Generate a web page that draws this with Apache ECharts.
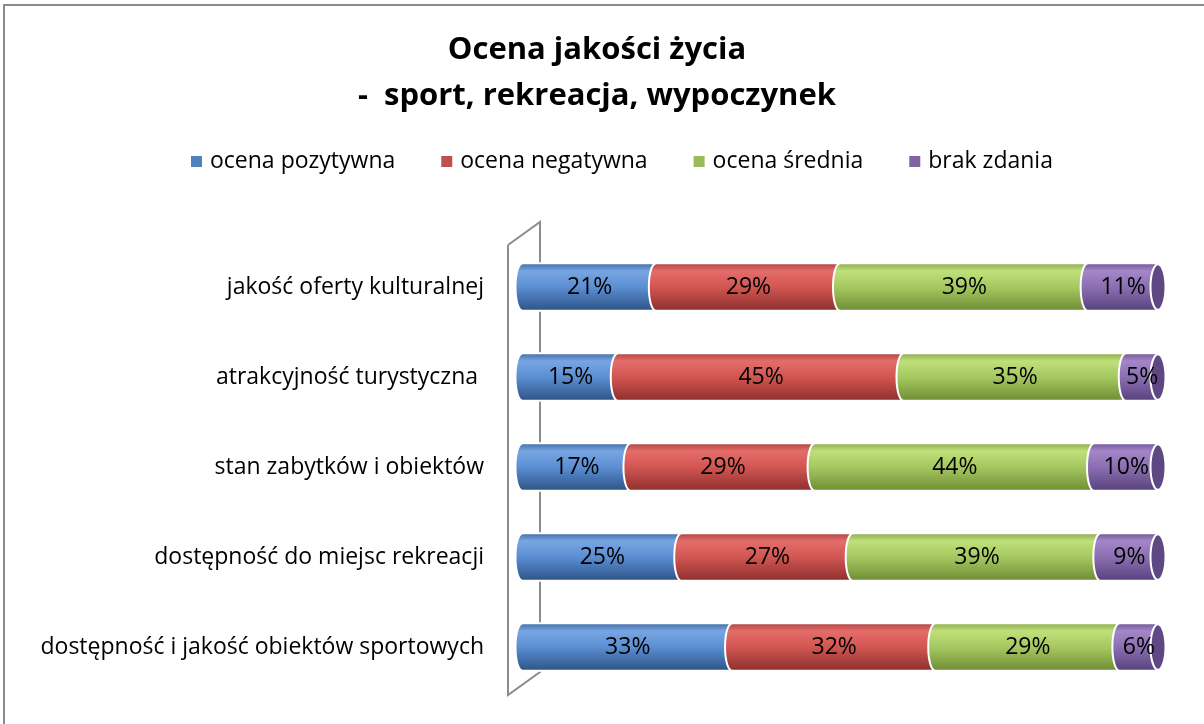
<!DOCTYPE html>
<html>
<head>
<meta charset="utf-8">
<script src="https://cdn.jsdelivr.net/npm/echarts@6/dist/echarts.min.js"></script>
<style>
html, body { margin: 0; padding: 0; background: #fff; }
#chart { width: 1204px; height: 724px; }
</style>
</head>
<body>
<div id="chart"></div>
<script>
// categories, top to bottom
var categories = [
    "jakość oferty kulturalnej",
    "atrakcyjność turystyczna ",
    "stan zabytków i obiektów",
    "dostępność do miejsc rekreacji",
    "dostępność i jakość obiektów sportowych"
];
var seriesNames = ["ocena pozytywna", "ocena negatywna", "ocena średnia", "brak zdania"];
var pozytywna = [21, 15, 17, 25, 33];
var negatywna = [29, 45, 29, 27, 32];
var srednia = [39, 35, 44, 39, 29];
var brak = [11, 5, 10, 9, 6];

var FONT = "'Open Sans', sans-serif";
var palette = [
    {base: "#4f81bd", stops: ["#3a659e", "#78a6e2", "#5b8ed3", "#2b5183"]},
    {base: "#c0504d", stops: ["#a63f3c", "#e46d6a", "#d25652", "#8a2e2c"]},
    {base: "#9bbb59", stops: ["#85a448", "#bfe07a", "#a6c860", "#6c8a33"]},
    {base: "#8064a2", stops: ["#6a5090", "#a487c8", "#8c6fb2", "#54407a"]}
];

function grad(st) {
    return new echarts.graphic.LinearGradient(0, 0, 0, 1, [
        {offset: 0, color: st[0]},
        {offset: 0.18, color: st[1]},
        {offset: 0.5, color: st[2]},
        {offset: 1, color: st[3]}
    ]);
}

var allVals = [pozytywna, negatywna, srednia, brak];

function makeData(k) {
    var out = [];
    for (var i = 0; i < categories.length; i++) {
        var s = 0;
        for (var j = 0; j < k; j++) s += allVals[j][i];
        out.push([i, s, s + allVals[k][i], allVals[k][i]]);
    }
    return out;
}

function makeRender(k, last) {
    return function (params, api) {
        var cat = api.value(0);
        var p0 = api.coord([api.value(1), cat]);
        var p1 = api.coord([api.value(2), cat]);
        var h = api.size([0, 1])[1] * 0.53;
        var cy = p0[1], top = cy - h / 2, bot = cy + h / 2;
        var rx = 7.5, c = rx * 4 / 3;
        var x0 = p0[0], x1 = p1[0];
        var d = "M" + x0 + " " + top +
            " C" + (x0 - c) + " " + top + " " + (x0 - c) + " " + bot + " " + x0 + " " + bot +
            " L" + x1 + " " + bot +
            " C" + (x1 + c) + " " + bot + " " + (x1 + c) + " " + top + " " + x1 + " " + top + " Z";
        var kids = [{
            type: "path",
            shape: {pathData: d},
            style: {fill: grad(palette[k].stops), stroke: "#ffffff", lineWidth: 2}
        }];
        if (last) {
            kids.push({
                type: "ellipse",
                shape: {cx: x1, cy: cy, rx: rx, ry: h / 2 - 1},
                style: {fill: "#5e4883", stroke: "#ffffff", lineWidth: 2}
            });
        }
        kids.push({
            type: "text",
            style: {
                x: (x0 + x1) / 2, y: cy, text: api.value(3) + "%",
                align: "center", verticalAlign: "middle",
                font: "23px " + FONT, fill: "#000"
            }
        });
        return {type: "group", children: kids};
    };
}

var series = seriesNames.map(function (n, k) {
    return {
        type: "custom",
        name: n,
        data: makeData(k),
        encode: {x: [1, 2], y: 0},
        itemStyle: {color: palette[k].base},
        renderItem: makeRender(k, k === seriesNames.length - 1),
        z: 3 + k
    };
});

var chart = echarts.init(document.getElementById("chart"));
chart.setOption({
    animation: false,
    backgroundColor: "#fff",
    title: {
        text: "Ocena jakości życia\n-  sport, rekreacja, wypoczynek",
        left: 592, top: 22, textAlign: "center",
        textStyle: {fontFamily: FONT, fontSize: 31, fontWeight: "bold", color: "#000", lineHeight: 46}
    },
    legend: {
        top: 145, left: 186,
        icon: "rect", itemWidth: 11, itemHeight: 11, itemGap: 46,
        textStyle: {fontFamily: FONT, fontSize: 23, color: "#000", padding: [0, 0, 0, 3]},
        data: seriesNames
    },
    grid: {left: 523, right: 46, top: 242, bottom: 32},
    xAxis: {type: "value", min: 0, max: 100, show: false},
    yAxis: {
        type: "category", inverse: true, data: categories,
        axisLine: {show: false}, axisTick: {show: false},
        axisLabel: {fontFamily: FONT, fontSize: 23, color: "#000", margin: 39}
    },
    graphic: [
        {type: "rect", shape: {x: 4, y: 5, width: 1220, height: 740},
         style: {fill: "none", stroke: "#8a8a8a", lineWidth: 2}, z: 0},
        {type: "polyline", shape: {points: [[508, 245], [540, 222], [540, 672], [508, 695], [508, 245]]},
         style: {fill: "none", stroke: "#8c8c8c", lineWidth: 2}, z: 0}
    ],
    series: series
});
</script>
</body>
</html>
